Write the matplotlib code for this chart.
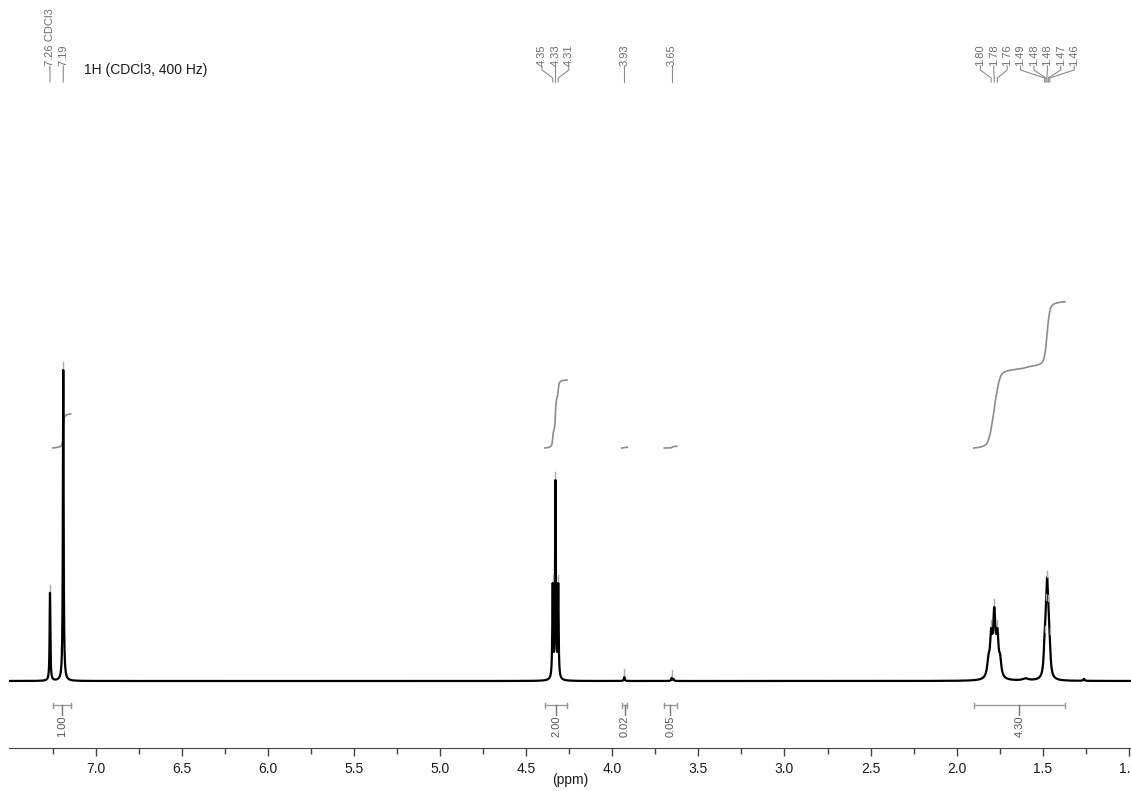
import numpy as np
import matplotlib
matplotlib.use('Agg')
from matplotlib import pyplot as plt

plt.rcParams['font.family'] = ['Liberation Sans', 'DejaVu Sans']

# spectrum peaks (ppm, height in px above baseline, half width in ppm)
peak_ppm    = [7.265, 7.188, 4.346, 4.330, 4.314, 3.930, 3.655, 3.645,
               1.816, 1.800, 1.782, 1.764, 1.748,
               1.490, 1.482, 1.475, 1.468, 1.460, 1.600, 1.262]
peak_height = [88, 311, 92, 196, 92, 4, 3, 2,
               15, 38, 60, 38, 15,
               22, 35, 68, 35, 20, 2, 2]
peak_width  = [0.0025, 0.0025, 0.0027, 0.0027, 0.0027, 0.003, 0.003, 0.003,
               0.008, 0.008, 0.008, 0.008, 0.008,
               0.006, 0.006, 0.006, 0.006, 0.006, 0.02, 0.004]

# peak picking labels
label_groups = [
    ([7.265, 7.188], ['7.26 CDCl3', '7.19']),
    ([4.346, 4.330, 4.314], ['4.35', '4.33', '4.31']),
    ([3.930], ['3.93']),
    ([3.655], ['3.65']),
    ([1.800, 1.782, 1.764, 1.490, 1.482, 1.476, 1.468, 1.460],
     ['1.80', '1.78', '1.76', '1.49', '1.48', '1.48', '1.47', '1.46']),
]

# integrals (from ppm, to ppm, value)
int_from  = [7.248, 4.391, 3.945, 3.698, 1.900]
int_to    = [7.145, 4.263, 3.913, 3.626, 1.371]
int_value = [1.00, 2.00, 0.02, 0.05, 4.30]

title = '1H (CDCl3, 400 Hz)'

xmin, xmax = 7.503, 0.988
ppm = np.linspace(xmin, xmax, 40000)
spec = np.zeros_like(ppm)
for p, h, w in zip(peak_ppm, peak_height, peak_width):
    spec += h / (1 + ((ppm - p) / w) ** 2)

fig = plt.figure(figsize=(11.31, 7.91), dpi=100, facecolor='w')
ax = fig.add_axes([9 / 1131, 43 / 791, 1122 / 1131, 748 / 791])
ax.set_xlim(xmin, xmax)
ax.set_ylim(-67, 681)
px = 1122 / (xmin - xmax)   # pixels per ppm

# integral curves
unit = 34.0
int_base = 233
for a, b, v in zip(int_from, int_to, int_value):
    m = (ppm <= a) & (ppm >= b)
    c = np.cumsum(spec[m])
    c = c / c[-1] * v * unit
    ax.plot(ppm[m], int_base + c, '-', color='#8c8c8c', lw=1.2)

ax.plot(ppm, spec, '-', color='black', lw=1.6)

# integral brackets below the baseline
for a, b, v in zip(int_from, int_to, int_value):
    yb = -24
    ax.plot([a, b], [yb, yb], '-', color='#999999', lw=1)
    ax.plot([a, a], [yb - 2.5, yb + 2.5], '-', color='#999999', lw=1)
    ax.plot([b, b], [yb - 2.5, yb + 2.5], '-', color='#999999', lw=1)
    cx = (a + b) / 2
    ax.plot([cx, cx], [yb, yb - 10], '-', color='#777777', lw=1)
    ax.text(cx, yb - 10.5, '%.2f' % v, rotation=90, ha='center', va='top',
            fontsize=8, color='#555555')

# peak labels at the top
spacing = 13.4 / px
for pk, labs in label_groups:
    n = len(pk)
    centre = np.mean(pk)
    for i, (p, lab) in enumerate(zip(pk, labs)):
        lx = centre + spacing * ((n - 1) / 2 - i)
        ax.text(lx, 681 - 66, lab, rotation=90, ha='center', va='bottom',
                fontsize=8, color='#6e6e6e')
        ax.plot([lx, lx, p, p], [681 - 66, 681 - 70, 681 - 78, 681 - 82],
                '-', color='#8c8c8c', lw=0.8)
        # marker above the peak
        top = np.interp(p, ppm[::-1], spec[::-1])
        ax.plot([p, p], [top + 2, top + 8], '-', color='#aaaaaa', lw=1)

ax.text(7.07, 681 - 70, title, ha='left', va='center', fontsize=10,
        color='#1a1a1a')

for s in ['top', 'left', 'right']:
    ax.spines[s].set_visible(False)
ax.spines['bottom'].set_color('#444444')
ax.set_yticks([])
ax.set_xticks(np.arange(1.0, 7.01, 0.5))
ax.set_xticklabels(['%.1f' % t for t in np.arange(1.0, 7.01, 0.5)])
ax.set_xticks(np.arange(1.25, 7.5, 0.5), minor=True)
ax.tick_params(axis='x', which='major', length=6, width=1, color='#444444',
               labelsize=10, pad=4, labelcolor='#1a1a1a')
ax.tick_params(axis='x', which='minor', length=4, width=1, color='#444444')
ax.set_xlabel('(ppm)', fontsize=10, labelpad=-2, color='#1a1a1a')

plt.savefig('out.png', dpi=100)
